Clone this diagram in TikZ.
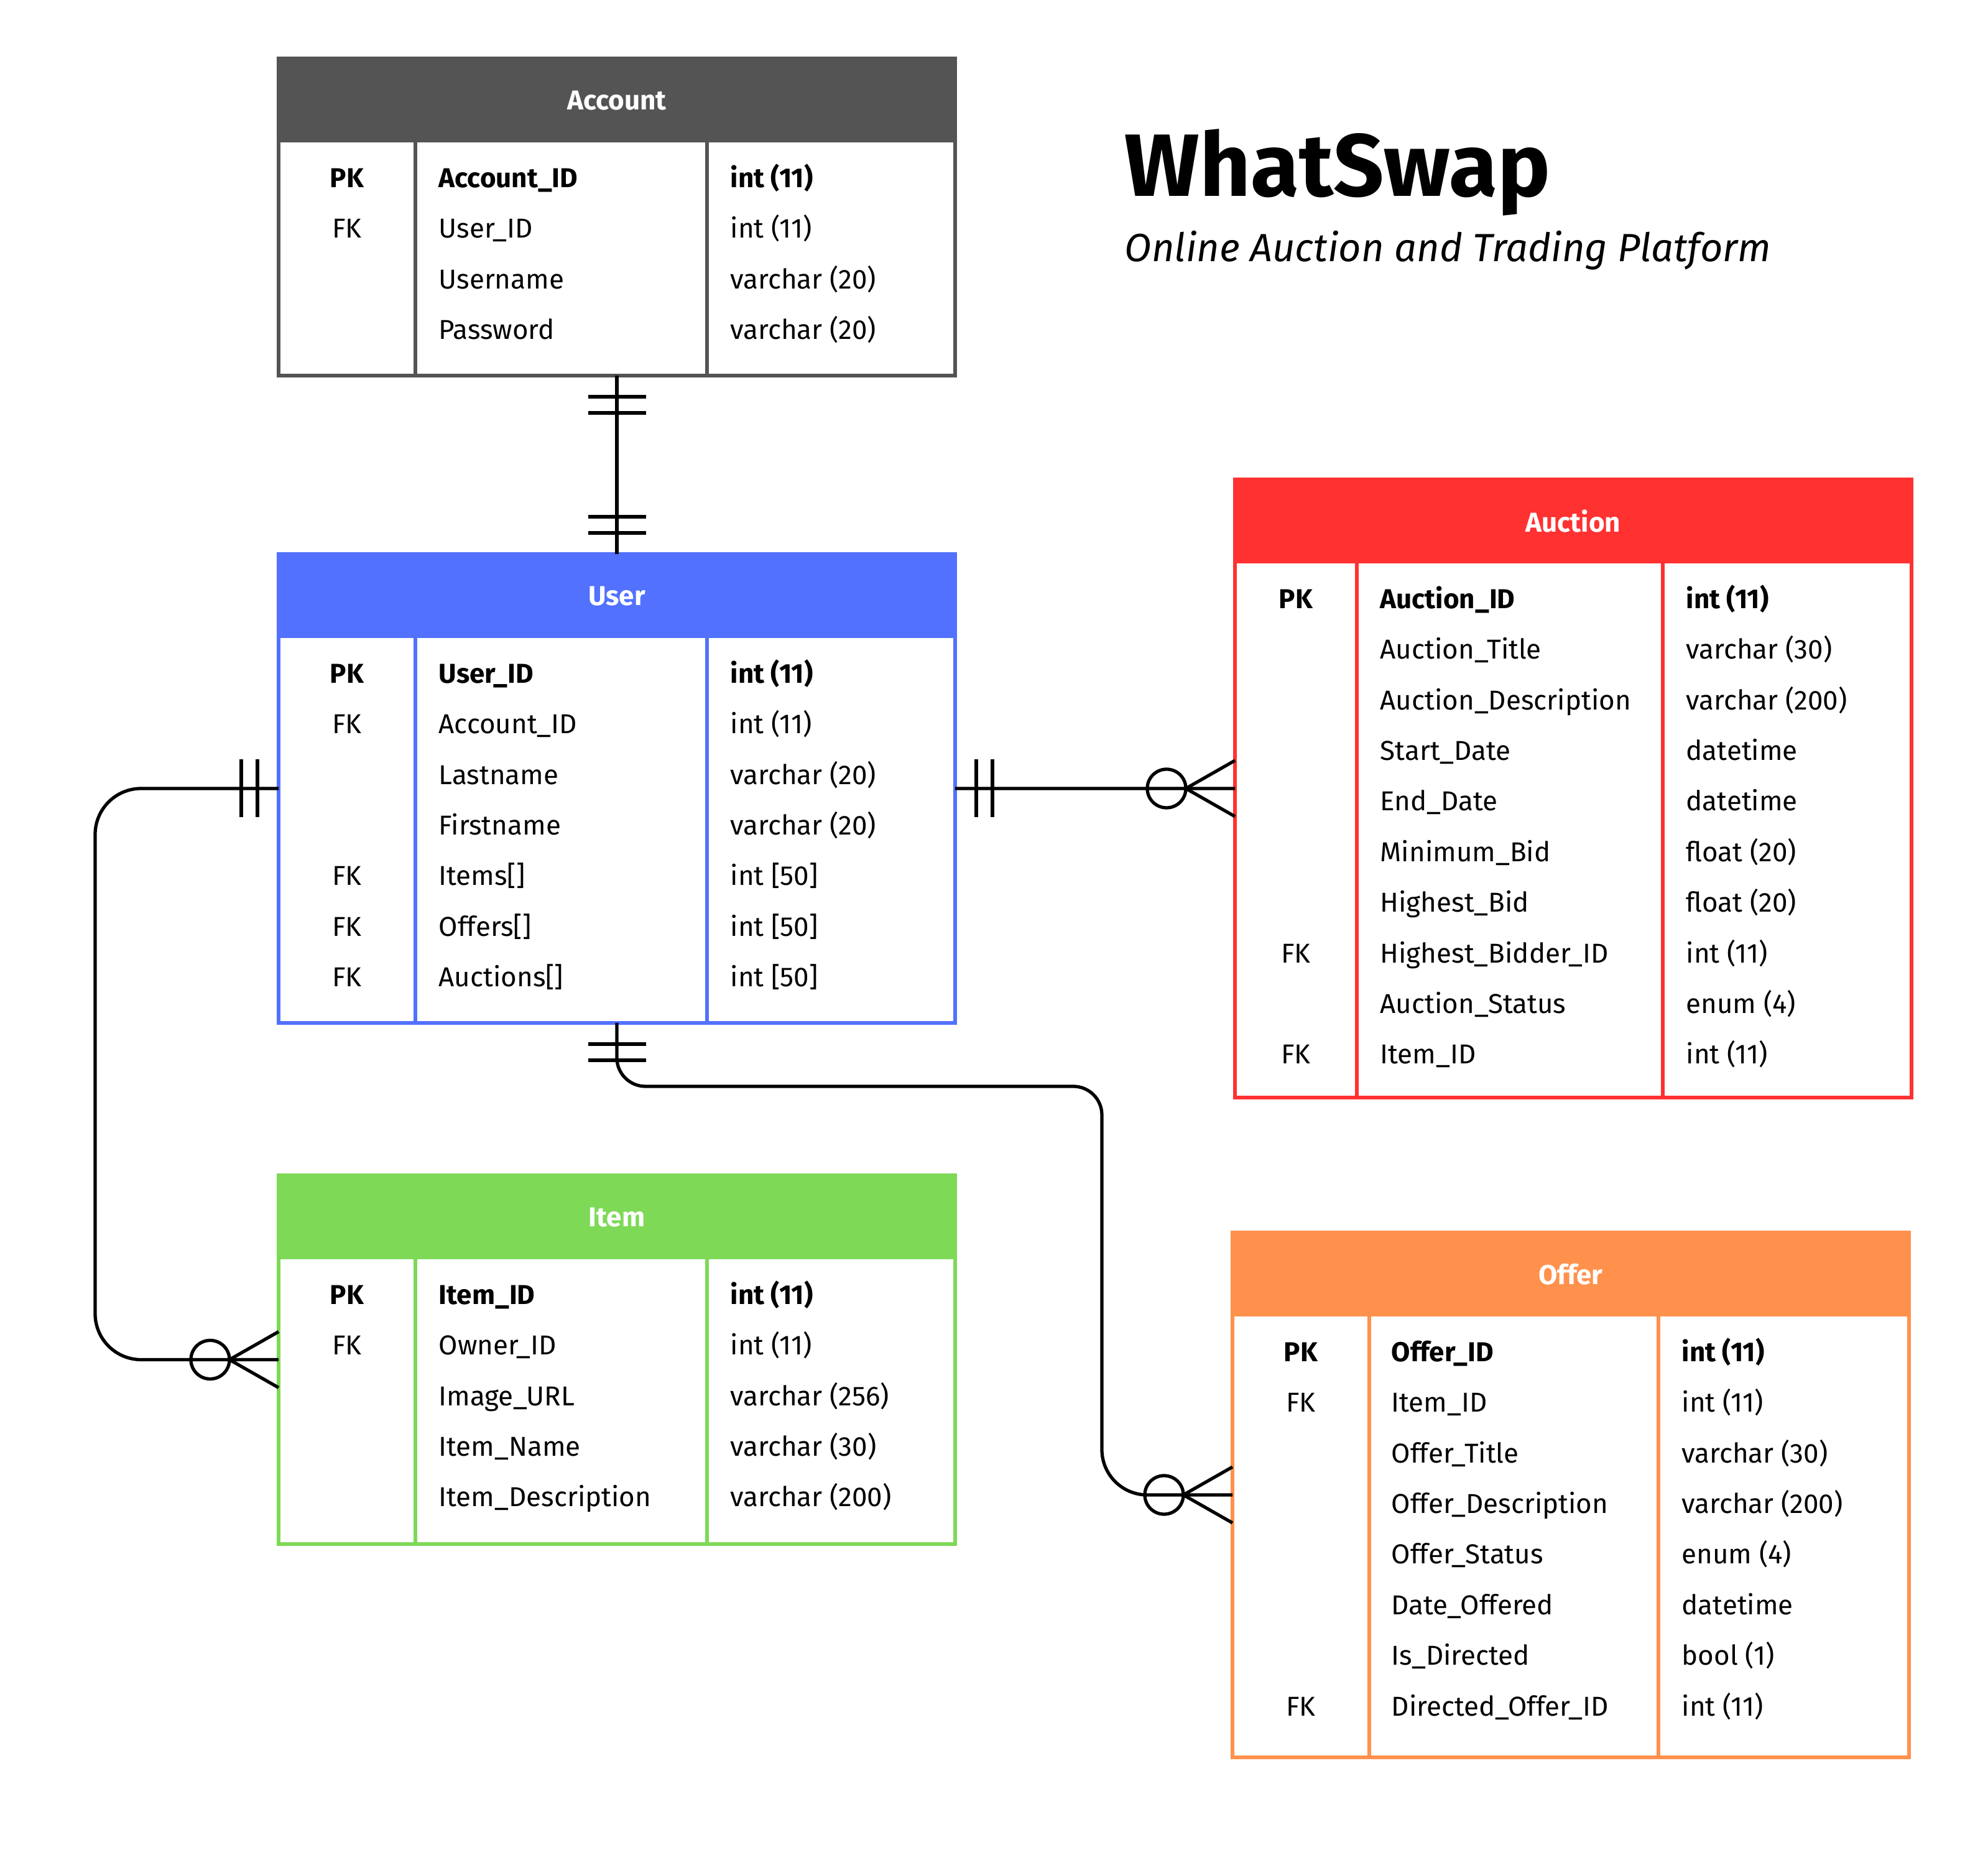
\documentclass[tikz,border=0pt]{standalone}
\usepackage{fontspec}
\setmainfont{Fira Sans}
\usetikzlibrary{calc}

\definecolor{accountcol}{HTML}{545454}
\definecolor{usercol}{HTML}{5271FF}
\definecolor{auctioncol}{HTML}{FF3131}
\definecolor{itemcol}{HTML}{7ED957}
\definecolor{offercol}{HTML}{FF914D}

\begin{document}
\begin{tikzpicture}[
    entity/.style={draw, line width=1.5pt, minimum width=10.88cm, anchor=north west, inner sep=0pt, outer sep=0pt},
    entityhead/.style={anchor=north west, minimum width=10.88cm, minimum height=1.35cm, inner sep=0pt, outer sep=0pt, text=white, font=\fontsize{12.5}{15}\selectfont\bfseries},
    divider/.style={line width=1.5pt},
    keytext/.style={anchor=mid, inner sep=0pt, font=\fontsize{12.5}{15}\selectfont},
    fieldtext/.style={anchor=mid west, inner sep=0pt, font=\fontsize{12.5}{15}\selectfont},
    rel/.style={line width=1.5pt, black},
    onlyone/.pic={\draw[rel] (0.34,-0.465) -- (0.34,0.465) (0.60,-0.465) -- (0.60,0.465);},
    zeromany/.pic={\draw[rel] (1.10,0) circle (0.31);
                   \draw[rel] (0,0.45) -- (0.79,0) (0,-0.45) -- (0.79,0);}
]
                \path[use as bounding box, fill=white] (0,0) rectangle (31.97,29.75);
                % Title
                \node[anchor=base west, inner sep=0pt, font=\fontsize{40.5}{48}\selectfont\bfseries] (title) at (18.08,26.59) {WhatSwap};
                \node[anchor=base west, inner sep=0pt, font=\fontsize{18}{22}\selectfont\itshape] (subtitle) at (18.08,25.54) {Online Auction and Trading Platform};
                % Account
                \node[entity, draw=accountcol, minimum height=5.10cm] (account) at (4.48,28.81) {};
                \node[entityhead, fill=accountcol] (account-head) at (account.north west) {Account};
                \draw[divider, accountcol] ([xshift=2.20cm]account-head.south west) -- ([xshift=2.20cm]account.south west);
                \draw[divider, accountcol] ([xshift=6.89cm]account-head.south west) -- ([xshift=6.89cm]account.south west);
                \foreach \k/\f/\t [count=\i from 0] in {{\bfseries PK}/{\bfseries Account\_ID}/{\bfseries int (11)}, FK/User\_ID/int (11), /Username/varchar (20), /Password/varchar (20)} {
                    \node[keytext] (account-k\i) at ($(account-head.south west)+(1.10,-0.63-0.814*\i)$) {\k};
                    \node[fieldtext] (account-f\i) at ($(account-head.south west)+(2.57,-0.63-0.814*\i)$) {\f};
                    \node[fieldtext] (account-t\i) at ($(account-head.south west)+(7.26,-0.63-0.814*\i)$) {\t};
                }
                % User
                \node[entity, draw=usercol, minimum height=7.54cm] (user) at (4.48,20.84) {};
                \node[entityhead, fill=usercol] (user-head) at (user.north west) {User};
                \draw[divider, usercol] ([xshift=2.20cm]user-head.south west) -- ([xshift=2.20cm]user.south west);
                \draw[divider, usercol] ([xshift=6.89cm]user-head.south west) -- ([xshift=6.89cm]user.south west);
                \foreach \k/\f/\t [count=\i from 0] in {{\bfseries PK}/{\bfseries User\_ID}/{\bfseries int (11)}, FK/Account\_ID/int (11), /Lastname/varchar (20), /Firstname/varchar (20), FK/Items[]/int [50], FK/Offers[]/int [50], FK/Auctions[]/int [50]} {
                    \node[keytext] (user-k\i) at ($(user-head.south west)+(1.10,-0.63-0.814*\i)$) {\k};
                    \node[fieldtext] (user-f\i) at ($(user-head.south west)+(2.57,-0.63-0.814*\i)$) {\f};
                    \node[fieldtext] (user-t\i) at ($(user-head.south west)+(7.26,-0.63-0.814*\i)$) {\t};
                }
                % Item
                \node[entity, draw=itemcol, minimum height=5.93cm] (item) at (4.48,10.85) {};
                \node[entityhead, fill=itemcol] (item-head) at (item.north west) {Item};
                \draw[divider, itemcol] ([xshift=2.20cm]item-head.south west) -- ([xshift=2.20cm]item.south west);
                \draw[divider, itemcol] ([xshift=6.89cm]item-head.south west) -- ([xshift=6.89cm]item.south west);
                \foreach \k/\f/\t [count=\i from 0] in {{\bfseries PK}/{\bfseries Item\_ID}/{\bfseries int (11)}, FK/Owner\_ID/int (11), /Image\_URL/varchar (256), /Item\_Name/varchar (30), /Item\_Description/varchar (200)} {
                    \node[keytext] (item-k\i) at ($(item-head.south west)+(1.10,-0.63-0.814*\i)$) {\k};
                    \node[fieldtext] (item-f\i) at ($(item-head.south west)+(2.57,-0.63-0.814*\i)$) {\f};
                    \node[fieldtext] (item-t\i) at ($(item-head.south west)+(7.26,-0.63-0.814*\i)$) {\t};
                }
                % Auction
                \node[entity, draw=auctioncol, minimum height=9.94cm] (auction) at (19.86,22.04) {};
                \node[entityhead, fill=auctioncol] (auction-head) at (auction.north west) {Auction};
                \draw[divider, auctioncol] ([xshift=1.96cm]auction-head.south west) -- ([xshift=1.96cm]auction.south west);
                \draw[divider, auctioncol] ([xshift=6.88cm]auction-head.south west) -- ([xshift=6.88cm]auction.south west);
                \foreach \k/\f/\t [count=\i from 0] in {{\bfseries PK}/{\bfseries Auction\_ID}/{\bfseries int (11)}, /Auction\_Title/varchar (30), /Auction\_Description/varchar (200), /Start\_Date/datetime, /End\_Date/datetime, /Minimum\_Bid/float (20), /Highest\_Bid/float (20), FK/Highest\_Bidder\_ID/int (11), /Auction\_Status/enum (4), FK/Item\_ID/int (11)} {
                    \node[keytext] (auction-k\i) at ($(auction-head.south west)+(0.98,-0.63-0.814*\i)$) {\k};
                    \node[fieldtext] (auction-f\i) at ($(auction-head.south west)+(2.33,-0.63-0.814*\i)$) {\f};
                    \node[fieldtext] (auction-t\i) at ($(auction-head.south west)+(7.25,-0.63-0.814*\i)$) {\t};
                }
                % Offer
                \node[entity, draw=offercol, minimum height=8.44cm] (offer) at (19.82,9.93) {};
                \node[entityhead, fill=offercol] (offer-head) at (offer.north west) {Offer};
                \draw[divider, offercol] ([xshift=2.20cm]offer-head.south west) -- ([xshift=2.20cm]offer.south west);
                \draw[divider, offercol] ([xshift=6.85cm]offer-head.south west) -- ([xshift=6.85cm]offer.south west);
                \foreach \k/\f/\t [count=\i from 0] in {{\bfseries PK}/{\bfseries Offer\_ID}/{\bfseries int (11)}, FK/Item\_ID/int (11), /Offer\_Title/varchar (30), /Offer\_Description/varchar (200), /Offer\_Status/enum (4), /Date\_Offered/datetime, /Is\_Directed/bool (1), FK/Directed\_Offer\_ID/int (11)} {
                    \node[keytext] (offer-k\i) at ($(offer-head.south west)+(1.10,-0.63-0.814*\i)$) {\k};
                    \node[fieldtext] (offer-f\i) at ($(offer-head.south west)+(2.55,-0.63-0.814*\i)$) {\f};
                    \node[fieldtext] (offer-t\i) at ($(offer-head.south west)+(7.22,-0.63-0.814*\i)$) {\t};
                }
                % Account -- User
                \draw[rel] (account.south) -- (user.north);
                \pic[rotate=-90] at (account.south) {onlyone};
                \pic[rotate=90] at (user.north) {onlyone};
                % User -- Auction
                \draw[rel] (user.east) -- (auction.west);
                \pic at (user.east) {onlyone};
                \pic[rotate=180] at (auction.west) {zeromany};
                % User -- Item
                \draw[rel, rounded corners=7.4mm] (user.west) -- ++(-2.95,0) |- (item.west);
                \pic[rotate=180] at (user.west) {onlyone};
                \pic[rotate=180] at (item.west) {zeromany};
                % User -- Offer
                \coordinate (offerbend) at (17.72,12.28);
                \draw[rel] (user.south) [rounded corners=4.6mm] |- (offerbend) [rounded corners=7.3mm] |- (offer.west);
                \pic[rotate=-90] at (user.south) {onlyone};
                \pic[rotate=180] at (offer.west) {zeromany};
            \end{tikzpicture}
\end{document}
